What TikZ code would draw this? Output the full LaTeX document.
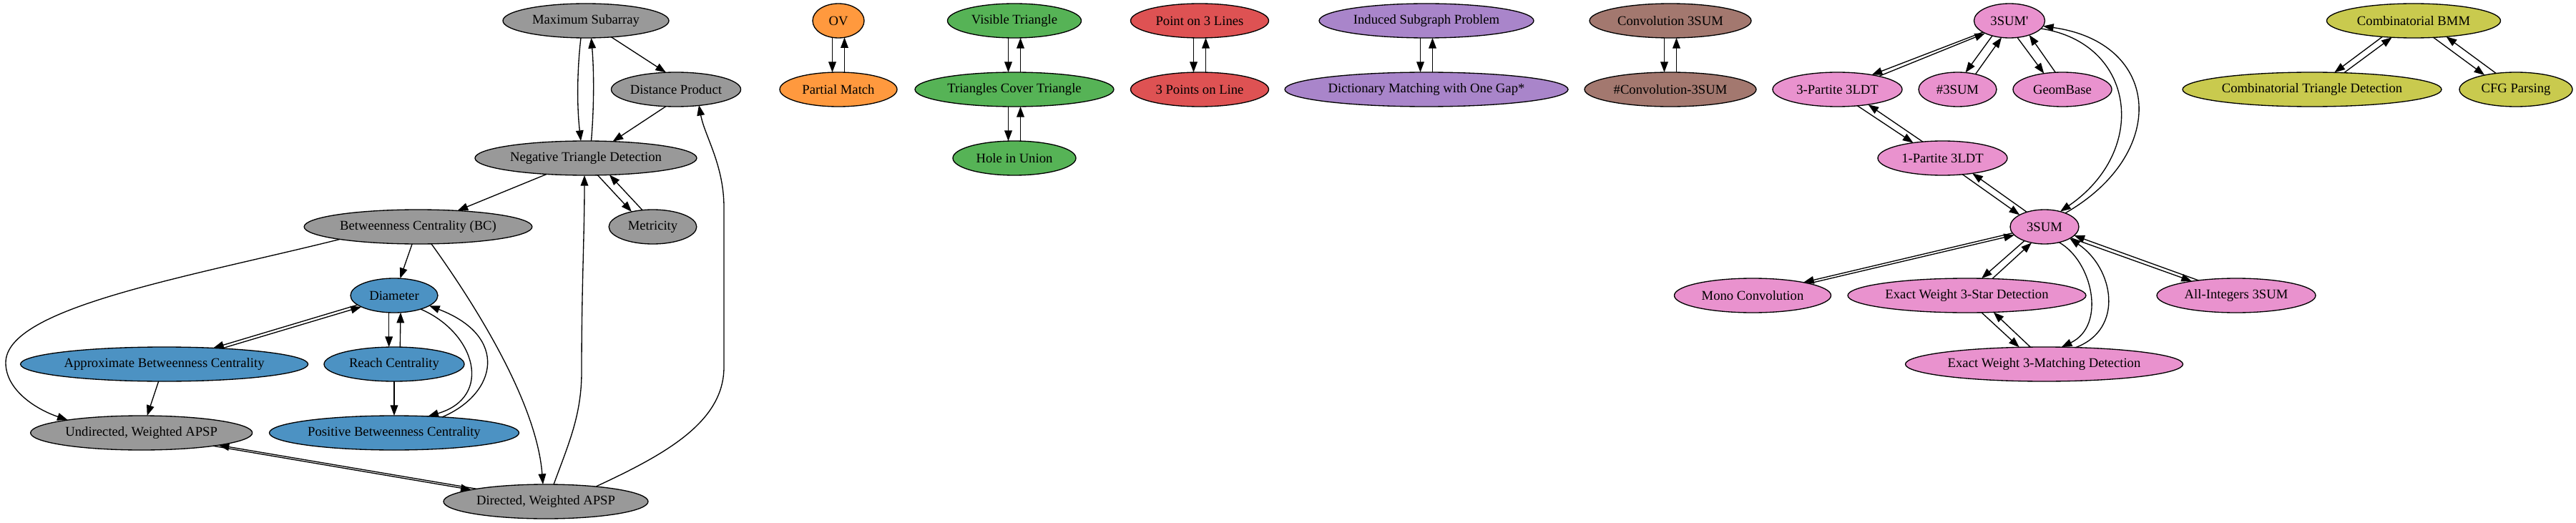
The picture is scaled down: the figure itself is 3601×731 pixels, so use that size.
\documentclass[tikz,border=0pt]{standalone}
\usepackage{fontspec}
\setmainfont{Liberation Serif}
\usetikzlibrary{calc,arrows.meta,shapes.geometric}
\definecolor{cgray}{RGB}{153,153,153}
\definecolor{cblue}{RGB}{76,146,195}
\definecolor{corange}{RGB}{255,153,62}
\definecolor{cgreen}{RGB}{86,179,86}
\definecolor{cred}{RGB}{222,82,83}
\definecolor{cpurple}{RGB}{169,133,202}
\definecolor{cbrown}{RGB}{163,120,111}
\definecolor{cpink}{RGB}{233,146,206}
\definecolor{colive}{RGB}{201,202,78}
% boundary points of an ellipse node (half height 24px): node, half width (px), x offset (px)
\newcommand{\ebot}[3]{($(#1.center)+(#3,{24*sqrt(1-((#3)/(#2))^2)})$)}
\newcommand{\etop}[3]{($(#1.center)+(#3,{-24*sqrt(1-((#3)/(#2))^2)})$)}
% vertical pair of opposite edges: upper node, its half width, lower node, its half width
\newcommand{\vpair}[4]{%
  \draw[arr] \ebot{#1}{#2}{-8.5} -- \etop{#3}{#4}{-8.5};
  \draw[arr] \etop{#3}{#4}{8.5} -- \ebot{#1}{#2}{8.5};}
\begin{document}
\begin{tikzpicture}[x=0.75pt,y=-0.75pt,
  nd/.style={ellipse, draw=black, line width=1pt, minimum height=36pt,
    inner sep=0pt, outer sep=0pt, font=\fontsize{14pt}{16pt}\selectfont},
  arr/.style={line width=1pt, -{Triangle[length=11pt,width=8pt]}}]
\useasboundingbox (0,0) rectangle (3601,731);
% gray
\node[nd, fill=cgray, minimum width=174pt]   (ms)  at (819,29)    {Maximum Subarray};
\node[nd, fill=cgray, minimum width=115.5pt] (dp)  at (945,125)   {Distance Product};
\node[nd, fill=cgray, minimum width=232.5pt] (ntd) at (819,221)   {Negative Triangle Detection};
\node[nd, fill=cgray, minimum width=239pt]   (bc)  at (584.5,317) {Betweenness Centrality (BC)};
\node[nd, fill=cgray, minimum width=92pt]    (met) at (912.5,317) {Metricity};
\node[nd, fill=cgray, minimum width=232.5pt] (uw)  at (197.7,605) {Undirected, Weighted APSP};
\node[nd, fill=cgray, minimum width=214.5pt] (dw)  at (763,701)   {Directed, Weighted APSP};
% blue
\node[nd, fill=cblue, minimum width=91.5pt]  (dia) at (551,413)   {Diameter};
\node[nd, fill=cblue, minimum width=301.5pt] (abc) at (229.6,509) {Approximate Betweenness Centrality};
\node[nd, fill=cblue, minimum width=147pt]   (rc)  at (551,509)   {Reach Centrality};
\node[nd, fill=cblue, minimum width=261.75pt] (pbc) at (551,605)  {Positive Betweenness Centrality};
% orange
\node[nd, fill=corange, minimum width=54pt]  (ov)  at (1172,29)   {OV};
\node[nd, fill=corange, minimum width=123pt] (pm)  at (1172,125)  {Partial Match};
% green
\node[nd, fill=cgreen, minimum width=140.25pt] (vt)  at (1418,29)  {Visible Triangle};
\node[nd, fill=cgreen, minimum width=208.5pt]  (tct) at (1418,125) {Triangles Cover Triangle};
\node[nd, fill=cgreen, minimum width=129pt]    (hu)  at (1418,221) {Hole in Union};
% red
\node[nd, fill=cred, minimum width=144.75pt] (pl)  at (1677,29)   {Point on 3 Lines};
\node[nd, fill=cred, minimum width=144.75pt] (tpl) at (1677,125)  {3 Points on Line};
% purple
\node[nd, fill=cpurple, minimum width=225pt] (isp) at (1994,29)   {Induced Subgraph Problem};
\node[nd, fill=cpurple, minimum width=297pt] (dmg) at (1994,125)  {Dictionary Matching with One Gap*};
% brown
\node[nd, fill=cbrown, minimum width=169.5pt] (cv)  at (2335,29)  {Convolution 3SUM};
\node[nd, fill=cbrown, minimum width=180pt]   (ncv) at (2335,125) {\#Convolution-3SUM};
% pink
\node[nd, fill=cpink, minimum width=74.25pt]  (sp)   at (2809,29)    {3SUM\textquotesingle};
\node[nd, fill=cpink, minimum width=135.75pt] (tp)   at (2568.5,125) {3-Partite 3LDT};
\node[nd, fill=cpink, minimum width=81.75pt]  (ns)   at (2736.5,125) {\#3SUM};
\node[nd, fill=cpink, minimum width=103.5pt]  (gb)   at (2883,125)   {GeomBase};
\node[nd, fill=cpink, minimum width=135.75pt] (op)   at (2715.5,221) {1-Partite 3LDT};
\node[nd, fill=cpink, minimum width=72pt]     (tsum) at (2858,317)   {3SUM};
\node[nd, fill=cpink, minimum width=164.25pt] (mc)   at (2450,413)   {Mono Convolution};
\node[nd, fill=cpink, minimum width=249.75pt] (es)   at (2749.5,413) {Exact Weight 3-Star Detection};
\node[nd, fill=cpink, minimum width=166.5pt]  (ai)   at (3126,413)   {All-Integers 3SUM};
\node[nd, fill=cpink, minimum width=291pt]    (em)   at (2857.5,509) {Exact Weight 3-Matching Detection};
% olive
\node[nd, fill=colive, minimum width=182.25pt] (cbmm) at (3374,29)  {Combinatorial BMM};
\node[nd, fill=colive, minimum width=271.5pt]  (ctd)  at (3232,125) {Combinatorial Triangle Detection};
\node[nd, fill=colive, minimum width=118.5pt]  (cfg)  at (3517,125) {CFG Parsing};

% ---- gray / blue edges
\draw[arr] \ebot{ms}{116}{-7} .. controls (806.5,100) and (806.5,150) .. \etop{ntd}{155}{-7};
\draw[arr] \etop{ntd}{155}{7.5} .. controls (830.5,150) and (830.5,100) .. \ebot{ms}{116}{7.5};
\draw[arr] \ebot{ms}{116}{35.6} -- \etop{dp}{77}{-14};
\draw[arr] \ebot{dp}{77}{-14} -- \etop{ntd}{155}{37.5};
\draw[arr] (ntd) -- (bc);
\draw[arr] \ebot{ntd}{155}{16.5} -- \etop{met}{61.5}{-29.5};
\draw[arr] \etop{met}{61.5}{-14.5} -- \ebot{ntd}{155}{33};
\draw[arr] \etop{dw}{143}{11} .. controls (795,620) and (813,580) .. (813,520) .. controls (813,400) and (817,330) .. \ebot{ntd}{155}{-2};
\draw[arr] \etop{dw}{143}{70} .. controls (930,635) and (1012,590) .. (1012,513) -- (1012,290) .. controls (1012,230) and (985,190) .. \ebot{dp}{77}{32};
\draw[arr] (bc) -- (dia);
\draw[arr] \ebot{bc}{159.5}{-109.5} .. controls (260,388) and (8,430) .. (8,507) .. controls (8,545) and (50,572) .. \etop{uw}{155}{-103};
\draw[arr] \ebot{bc}{159.5}{18.5} .. controls (660,420) and (750,560) .. \etop{dw}{143}{-4};
\draw[arr] \ebot{dia}{61}{-51.1} -- \etop{abc}{201}{68.5};
\draw[arr] \etop{abc}{201}{80.5} -- \ebot{dia}{61}{-45.9};
\draw[arr] \ebot{dia}{61}{-7.3} -- \etop{rc}{98}{-7.3};
\draw[arr] \etop{rc}{98}{8.3} -- \ebot{dia}{61}{9};
\draw[arr] \ebot{dia}{61}{37} .. controls (665,465) and (690,555) .. \etop{pbc}{174.5}{47.3};
\draw[arr] \etop{pbc}{174.5}{67.3} .. controls (695,550) and (712,470) .. \ebot{dia}{61}{49};
\draw[arr] (rc) -- (pbc);
\draw[arr] (abc) -- (uw);
\draw[arr] \ebot{uw}{155}{100.4} -- \etop{dw}{143}{-104.2};
\draw[arr] \etop{dw}{143}{-96.8} -- \ebot{uw}{155}{108};

% ---- small groups
\vpair{ov}{36}{pm}{82}
\vpair{vt}{93.5}{tct}{139}
\vpair{tct}{139}{hu}{86}
\vpair{pl}{96.5}{tpl}{96.5}
\vpair{isp}{150}{dmg}{198}
\vpair{cv}{113}{ncv}{120}

% ---- 3SUM group
\draw[arr] \ebot{sp}{49.5}{-37} -- \etop{tp}{90.5}{48};
\draw[arr] \etop{tp}{90.5}{58} -- \ebot{sp}{49.5}{-34};
\draw[arr] \ebot{sp}{49.5}{-24} -- \etop{ns}{54.5}{11};
\draw[arr] \etop{ns}{54.5}{25} -- \ebot{sp}{49.5}{-11};
\draw[arr] \ebot{sp}{49.5}{11} -- \etop{gb}{69}{-25.7};
\draw[arr] \etop{gb}{69}{-9.7} -- \ebot{sp}{49.5}{27.7};
\draw[arr] \ebot{tp}{90.5}{28} -- \etop{op}{90.5}{-41};
\draw[arr] \etop{op}{90.5}{-27.7} -- \ebot{tp}{90.5}{43};
\draw[arr] \ebot{op}{90.5}{28} -- \etop{tsum}{48}{-34.7};
\draw[arr] \etop{tsum}{48}{-24.7} -- \ebot{op}{90.5}{41.7};
\draw[arr] \ebot{sp}{49.5}{44} .. controls (2985,60) and (3005,210) .. \etop{tsum}{48}{22};
\draw[arr] \etop{tsum}{48}{29} .. controls (3032,215) and (3022,60) .. \ebot{sp}{49.5}{47};
\draw[arr] \ebot{tsum}{48}{-44.7} -- \etop{mc}{109.5}{71};
\draw[arr] \etop{mc}{109.5}{78.5} -- \ebot{tsum}{48}{-42.1};
\draw[arr] \ebot{tsum}{48}{-28} -- \etop{es}{166.5}{20.5};
\draw[arr] \etop{es}{166.5}{35.5} -- \ebot{tsum}{48}{-18};
\draw[arr] \ebot{tsum}{48}{20.3} .. controls (2925,365) and (2945,455) .. \etop{em}{194}{24.2};
\draw[arr] \etop{em}{194}{44.2} .. controls (2970,460) and (2955,375) .. \ebot{tsum}{48}{35.3};
\draw[arr] \ebot{tsum}{48}{36.6} -- \etop{ai}{111}{-62};
\draw[arr] \etop{ai}{111}{-52.8} -- \ebot{tsum}{48}{41.4};
\draw[arr] \ebot{es}{166.5}{20.5} -- \etop{em}{194}{-34.8};
\draw[arr] \etop{em}{194}{-19.2} -- \ebot{es}{166.5}{37.2};

% ---- olive group
\draw[arr] \ebot{cbmm}{121.5}{-43.7} -- \etop{ctd}{181}{31.3};
\draw[arr] \etop{ctd}{181}{44.7} -- \ebot{cbmm}{121.5}{-30.3};
\draw[arr] \ebot{cbmm}{121.5}{27.7} -- \etop{cfg}{79}{-43.8};
\draw[arr] \etop{cfg}{79}{-27.7} -- \ebot{cbmm}{121.5}{45.6};
\end{tikzpicture}
\end{document}
